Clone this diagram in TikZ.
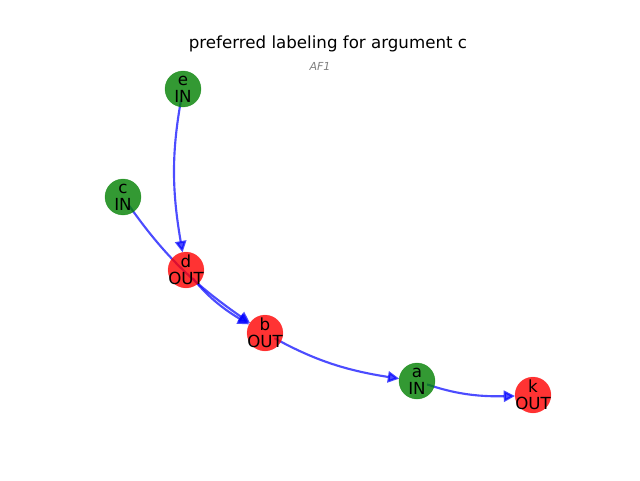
\documentclass[tikz,border=0pt]{standalone}
\usepackage{fontspec}
\setmainfont{DejaVu Sans}
\usetikzlibrary{arrows.meta}
\pgfdeclarelayer{bg}
\pgfsetlayers{bg,main}
\definecolor{ingreen}{RGB}{0,128,0}
\definecolor{outred}{RGB}{255,0,0}
\definecolor{edgeblue}{RGB}{0,0,255}
\newcommand{\twolines}[2]{\makebox[0pt]{#1}\\\makebox[0pt]{#2}}
\begin{document}
\begin{tikzpicture}[x=0.75pt,y=0.75pt,
  arg/.style={circle,minimum size=27pt,inner sep=0pt,outer sep=0pt,
    fill opacity=0.8,text opacity=1,align=center,
    font=\fontsize{12.5}{12.8}\selectfont},
  argin/.style={arg,fill=ingreen,draw=ingreen,draw opacity=0.5},
  argout/.style={arg,fill=outred,draw=outred,draw opacity=0.3},
  att/.style={draw=edgeblue,opacity=0.7,line width=1.6pt,
    -{Triangle[length=8.5pt,width=8.5pt]},
    shorten <=8pt,bend right=10}]
\useasboundingbox (0,0) rectangle (640,480);
\node (title) at (328,436) {\fontsize{12.5}{14}\selectfont preferred labeling for argument c};
\node[text=gray] (sub) at (320,414) {\fontsize{8.3}{9}\selectfont\itshape AF1};
\node[argin] (e) at (183,391) {\twolines{e}{IN}};
\node[argin] (c) at (123,283) {\twolines{c}{IN}};
\node[argout] (d) at (186,210) {\twolines{d}{OUT}};
\node[argout] (b) at (265,147) {\twolines{b}{OUT}};
\node[argin] (a) at (417,99) {\twolines{a}{IN}};
\node[argout] (k) at (533,85) {\twolines{k}{OUT}};
\begin{pgfonlayer}{bg}
\draw[att] (e.center) to (d);
\draw[att] (c.center) to (b);
\draw[att] (d.center) to (b);
\draw[att] (b.center) to (a);
\draw[att] (a.center) to (k);
\end{pgfonlayer}
\end{tikzpicture}
\end{document}
